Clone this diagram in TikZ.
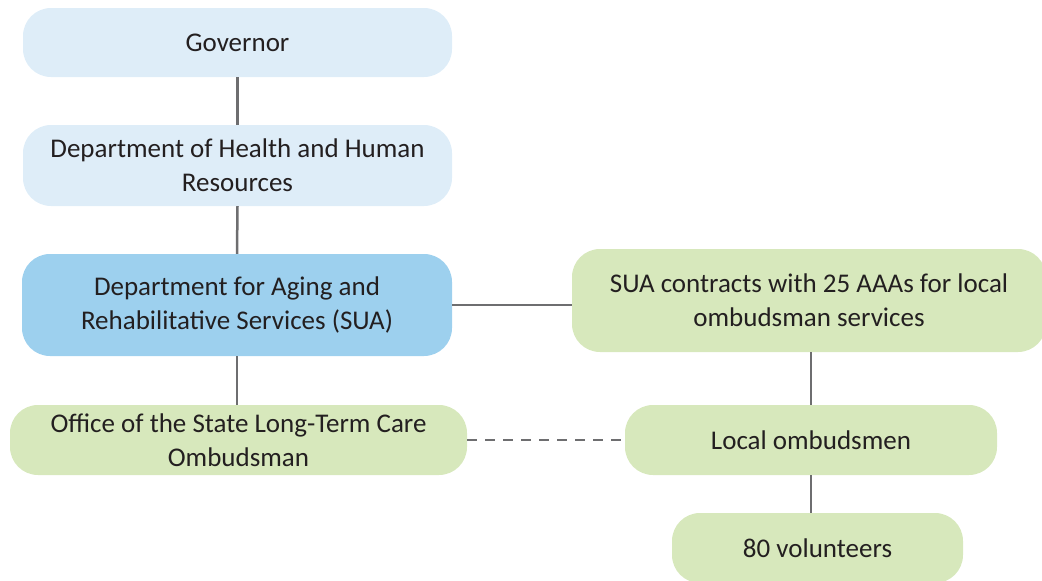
\documentclass[tikz,border=0pt]{standalone}
\usepackage{fontspec}
\setmainfont{Carlito}
\definecolor{lblue}{HTML}{DEEDF8}
\definecolor{mblue}{HTML}{9DD0EE}
\definecolor{lgreen}{HTML}{D7E8BC}
\definecolor{lgray}{HTML}{6E6E70}
\definecolor{txt}{HTML}{231F20}
\begin{document}
\begin{tikzpicture}[x=1pt,y=-1pt,
  box/.style={rounded corners=28pt, inner sep=0pt, align=center, text=txt,
    font=\fontsize{27}{34}\selectfont},
  bluebox/.style={box, fill=lblue},
  dbluebox/.style={box, fill=mblue},
  greenbox/.style={box, fill=lgreen},
  link/.style={draw=lgray, line width=2.5pt},
  dlink/.style={link, dash pattern=on 10pt off 8pt}]
\useasboundingbox (0,0) rectangle (1042,581);
\clip (0,0) rectangle (1042,581);
\node[bluebox, minimum width=429pt, minimum height=69pt] (gov) at (237.5,42.5) {Governor};
\node[bluebox, minimum width=429pt, minimum height=81pt] (dhhr) at (237.5,165.5) {Department of Health and Human\\Resources};
\node[dbluebox, minimum width=430pt, minimum height=102pt] (sua) at (237,305) {Department for Aging and\\Rehabilitative Services (SUA)};
\node[greenbox, minimum width=457pt, minimum height=70pt] (office) at (238.5,440) {Office of the State Long-Term Care\\Ombudsman};
\node[greenbox, minimum width=474pt, minimum height=103pt] (contracts) at (809,300.5) {SUA contracts with 25 AAAs for local\\ombudsman services};
\node[greenbox, minimum width=372pt, minimum height=70pt] (local) at (811,440) {Local ombudsmen};
\node[greenbox, minimum width=291pt, minimum height=70pt] (vol) at (817.5,548) {80 volunteers};
\draw[link] (gov.south) -- (dhhr.north);
\draw[link] (dhhr.south) -- (sua.north);
\draw[link] (sua.south) -- (sua.south |- office.north);
\draw[link] (sua.east) -- (sua.east -| contracts.west);
\draw[link] (local.north) -- (local.north |- contracts.south);
\draw[link] (local.south) -- (local.south |- vol.north);
\draw[dlink] (office.east) -- (local.west);
\end{tikzpicture}
\end{document}
